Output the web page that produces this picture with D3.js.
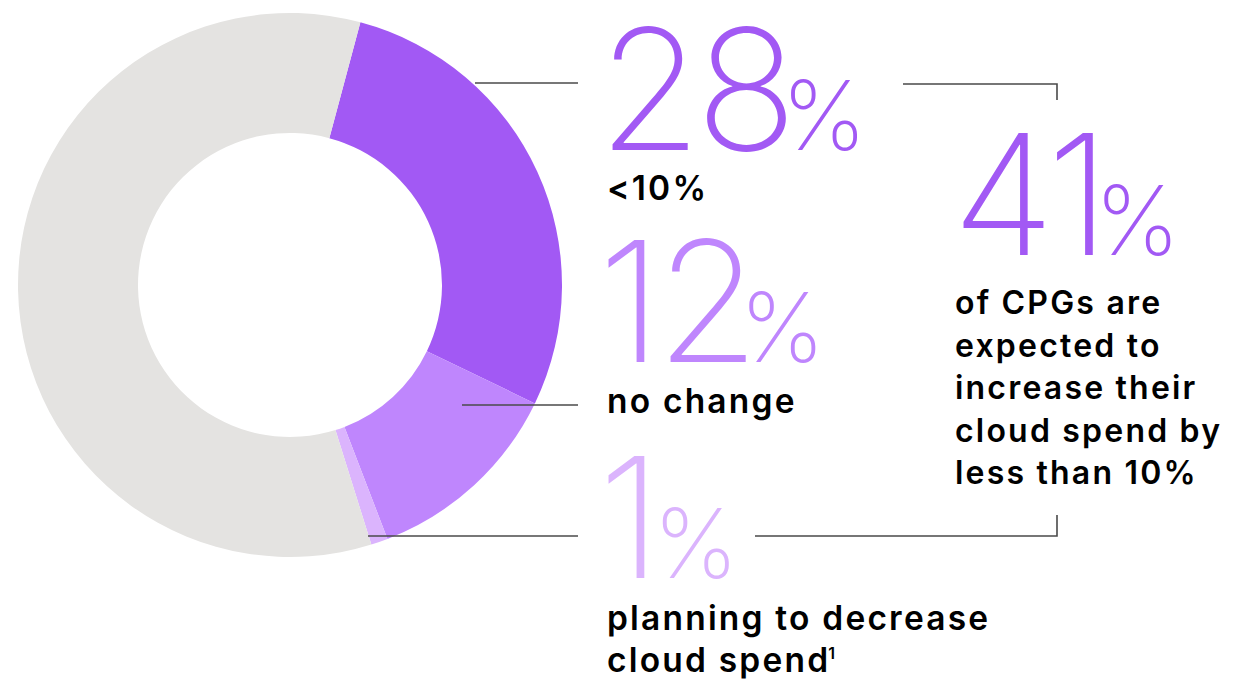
<!DOCTYPE html>
<html>
<head>
<meta charset="utf-8">
<script src="https://cdn.jsdelivr.net/npm/d3@7"></script>
<style>
  body { margin: 0; background: #fff; }
  .big { font-family: Inter, "Open Sans", sans-serif; font-weight: 200; }
  .lbl { font-family: Inter, "Open Sans", sans-serif; font-weight: 600; fill: #000; letter-spacing: 2.2px; }
</style>
</head>
<body>
<svg id="chart" width="1242" height="683"></svg>
<script>
// donut shares
var categories = ["<10%", "no change", "planning to decrease", "other"];
var values = [28, 12, 1, 59];
var colors = ["#a259f4", "#bf86fd", "#dbb4fd", "#e4e3e1"];

// callouts next to the ring
var bigLabels = ["28", "12", "1"];
var subLabels = [["<10%"], ["no change"], ["planning to decrease", "cloud spend"]];
var total = "41";
var totalText = ["of CPGs are", "expected to", "increase their", "cloud spend by", "less than 10%"];

var svg = d3.select("#chart");
var cx = 290, cy = 285, rOuter = 272, rInner = 152;

var start = 15 * Math.PI / 180;
var pie = d3.pie().sort(null).value(d => d)
    .startAngle(start).endAngle(start + 2 * Math.PI);
var arc = d3.arc().innerRadius(rInner).outerRadius(rOuter);

var g = svg.append("g").attr("transform", "translate(" + cx + "," + cy + ")");
g.selectAll("path")
    .data(pie(values))
    .enter()
    .append("path")
    .attr("d", arc)
    .attr("fill", (d, i) => colors[i]);

// leader lines
var lineColor = "#4a4a4a";
var leaders = [[475, 578, 83], [462, 578, 405], [368, 578, 536]];
leaders.forEach(function(l) {
    svg.append("line")
        .attr("x1", l[0]).attr("x2", l[1])
        .attr("y1", l[2]).attr("y2", l[2])
        .attr("stroke", lineColor).attr("stroke-width", 1.6);
});

// bracket on the right
svg.append("path")
    .attr("d", "M903,84 H1057 V100")
    .attr("fill", "none").attr("stroke", lineColor).attr("stroke-width", 1.6);
svg.append("path")
    .attr("d", "M755,536 H1057 V515")
    .attr("fill", "none").attr("stroke", lineColor).attr("stroke-width", 1.6);

function bigNumber(x, y, num, color, gap) {
    var t = svg.append("text").attr("class", "big")
        .attr("x", x).attr("y", y).attr("fill", color);
    t.append("tspan").attr("font-size", 168).attr("letter-spacing", -6).text(num);
    t.append("tspan").attr("font-size", 96).attr("dx", gap).text("%");
}

var bigY = [150, 362, 578];
var subY = [200, 413, 630];
var gaps = [-10, -14, -3];
bigLabels.forEach(function(b, i) {
    bigNumber(598, bigY[i], b, colors[i], gaps[i]);
    subLabels[i].forEach(function(s, j) {
        var t = svg.append("text").attr("class", "lbl")
            .attr("x", 607).attr("y", subY[i] + j * 42)
            .attr("font-size", 33.5).text(s);
        if (i === 2 && j === 1) {
            t.append("tspan").attr("font-size", 16).attr("dx", -2).attr("dy", -13).text("1");
        }
    });
});

bigNumber(952, 255, total, colors[0], -10);
totalText.forEach(function(s, j) {
    svg.append("text").attr("class", "lbl")
        .attr("x", 955).attr("y", 314 + j * 42.5)
        .attr("font-size", 32).text(s);
});
</script>
</body>
</html>
